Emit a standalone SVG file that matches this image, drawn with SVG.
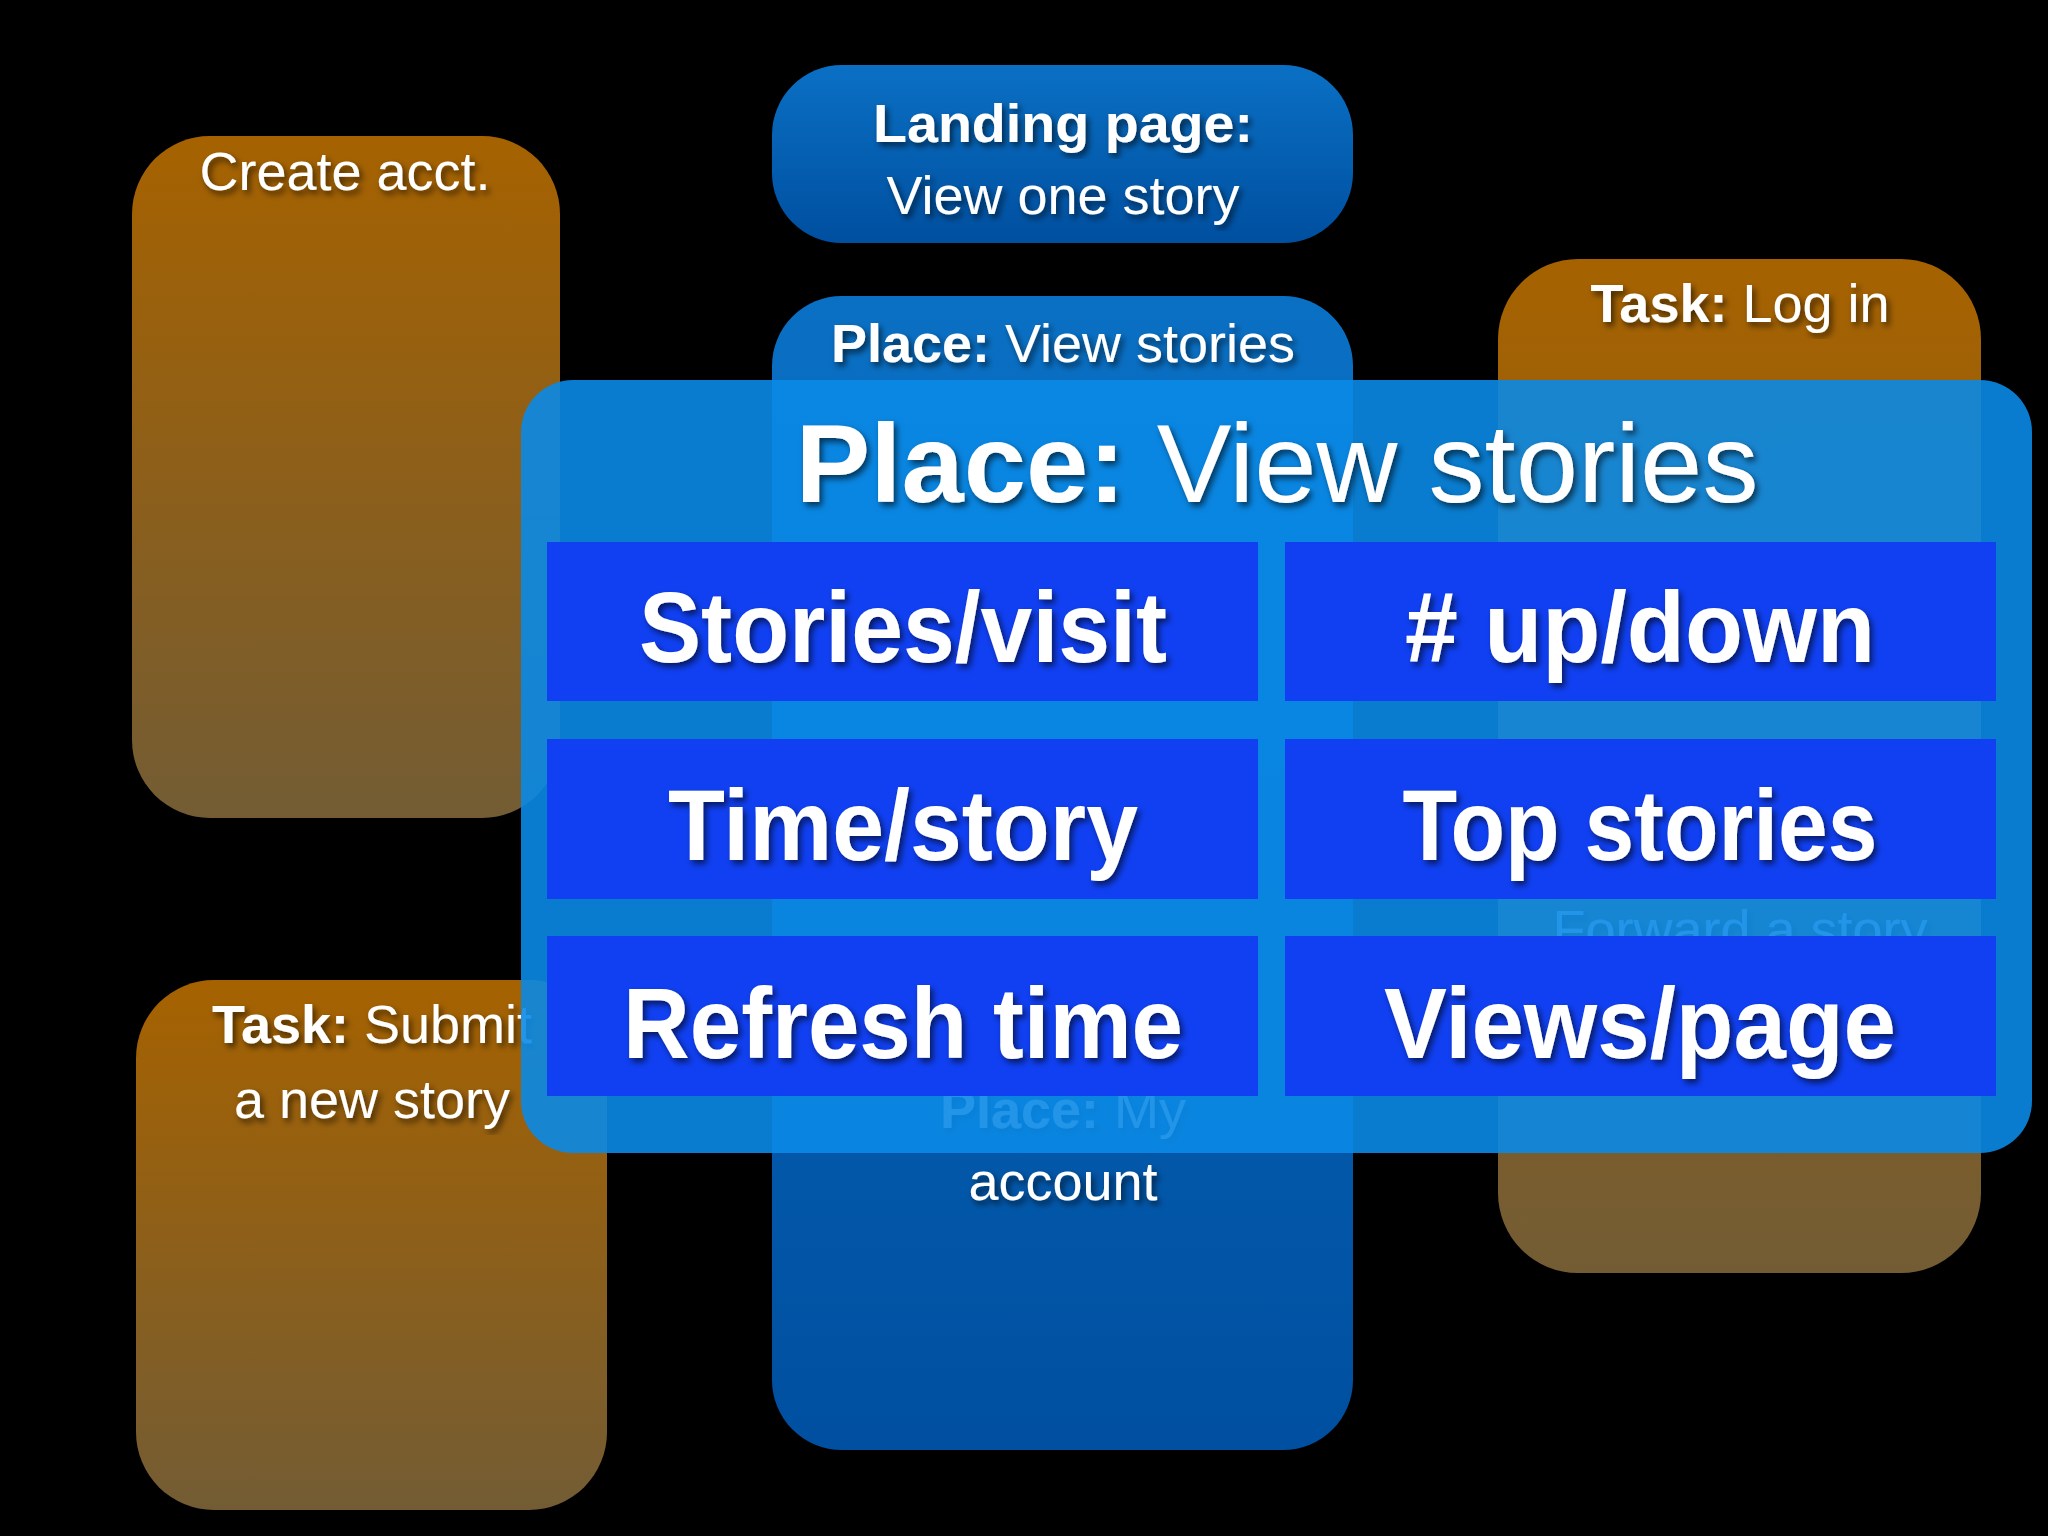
<svg xmlns="http://www.w3.org/2000/svg" width="2048" height="1536" viewBox="0 0 2048 1536">
<defs>
<linearGradient id="og" x1="0" y1="0" x2="0" y2="1"><stop offset="0" stop-color="#a66200"/><stop offset="1" stop-color="#735c34"/></linearGradient>
<linearGradient id="bg" x1="0" y1="0" x2="0" y2="1"><stop offset="0" stop-color="#0a70c4"/><stop offset="1" stop-color="#004fa0"/></linearGradient>
<filter id="sh"><feDropShadow dx="3" dy="4" stdDeviation="3" flood-color="#000" flood-opacity="0.6"/></filter>
</defs>
<style>
text{font-family:"Liberation Sans",Arial,sans-serif;fill:#fff;text-anchor:middle}
.h{font-size:54px;filter:url(#sh)}
.b{font-weight:bold}
.cell{fill:#1040f2}
.c{font-size:100px;font-weight:bold;filter:url(#sh)}
</style>
<rect width="2048" height="1536" fill="#000"/>
<g id="create"><rect x="132" y="136" width="428" height="682" rx="78" fill="url(#og)"/><text class="h" x="345" y="190">Create acct.</text></g>
<g id="landing"><rect x="772" y="65" width="581" height="178" rx="70" fill="url(#bg)"/><text class="h b" x="1063" y="142" textLength="380" lengthAdjust="spacingAndGlyphs">Landing page:</text><text class="h" x="1063" y="214">View one story</text></g>
<g id="myaccount"><rect x="772" y="296" width="581" height="1154" rx="70" fill="url(#bg)"/><text class="h" x="1063" y="362"><tspan class="b">Place:</tspan> View stories</text><text class="h" x="1063" y="1128"><tspan class="b">Place:</tspan> My</text><text class="h" x="1063" y="1200">account</text></g>
<g id="login"><rect x="1498" y="259" width="483" height="1014" rx="80" fill="url(#og)"/><text class="h" x="1740" y="322"><tspan class="b">Task:</tspan> Log in</text><text class="h" x="1740" y="948">Forward a story</text></g>
<g id="submit"><rect x="136" y="980" width="471" height="530" rx="78" fill="url(#og)"/><text class="h" x="372" y="1043"><tspan class="b">Task:</tspan> Submit</text><text class="h" x="372" y="1118">a new story</text></g>
<g id="overlay">
<rect x="521" y="380" width="1511" height="773" rx="52" fill="#0a8ae6" opacity="0.9"/>
<text x="1277" y="502" font-size="112" style="filter:url(#sh)"><tspan font-weight="bold">Place:</tspan> View stories</text>
<rect class="cell" x="547" y="542" width="711" height="159"/><rect class="cell" x="1285" y="542" width="711" height="159"/>
<rect class="cell" x="547" y="739" width="711" height="160"/><rect class="cell" x="1285" y="739" width="711" height="160"/>
<rect class="cell" x="547" y="936" width="711" height="160"/><rect class="cell" x="1285" y="936" width="711" height="160"/>
<text class="c" x="903" y="662" textLength="528" lengthAdjust="spacingAndGlyphs">Stories/visit</text>
<text class="c" x="1640" y="662" textLength="470" lengthAdjust="spacingAndGlyphs"># up/down</text>
<text class="c" x="903" y="860" textLength="470" lengthAdjust="spacingAndGlyphs">Time/story</text>
<text class="c" x="1640" y="860" textLength="475" lengthAdjust="spacingAndGlyphs">Top stories</text>
<text class="c" x="903" y="1058" textLength="560" lengthAdjust="spacingAndGlyphs">Refresh time</text>
<text class="c" x="1640" y="1058" textLength="512" lengthAdjust="spacingAndGlyphs">Views/page</text>
</g>
<g id="connectors"/>
</svg>
